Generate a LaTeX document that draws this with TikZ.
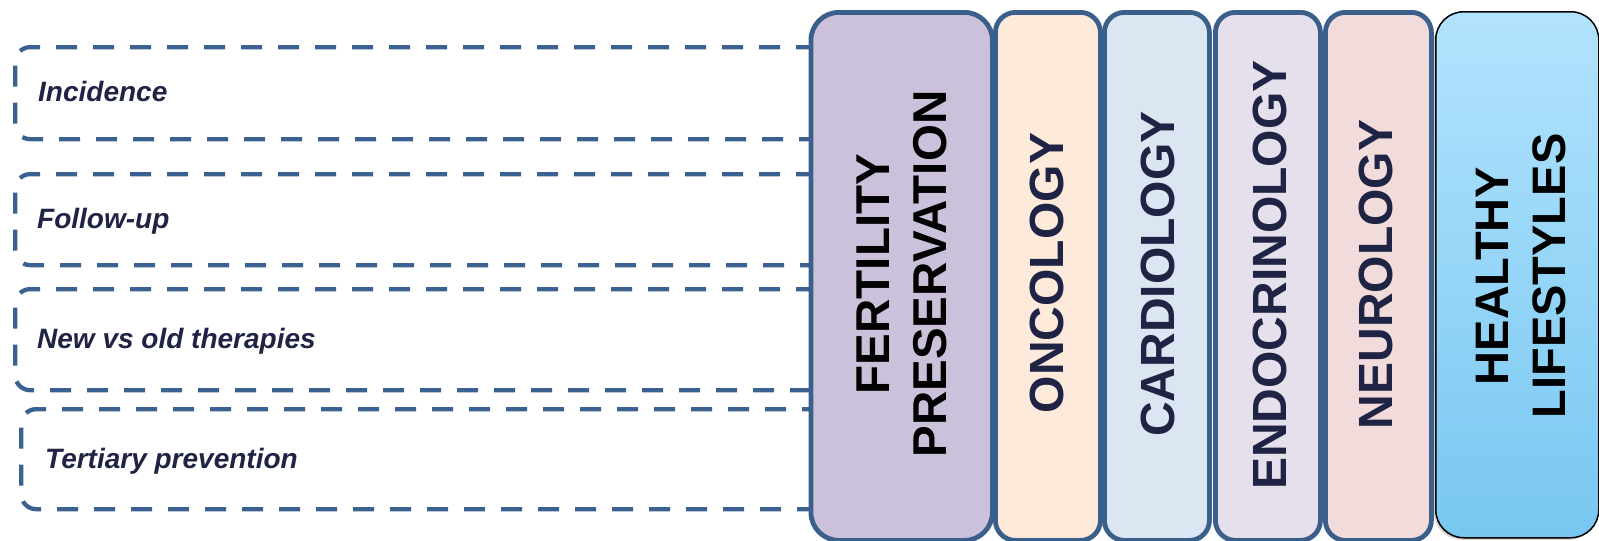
\documentclass[tikz,border=0pt]{standalone}
\usepackage{fontspec}
\setmainfont{Liberation Sans}
\usetikzlibrary{shadows}
\definecolor{bordc}{HTML}{3A5F8B}
\definecolor{dashc}{HTML}{3B6190}
\definecolor{navy}{HTML}{1F2444}
\definecolor{fertc}{HTML}{CBC1DA}
\definecolor{oncc}{HTML}{FDEADB}
\definecolor{cardc}{HTML}{DCE6F2}
\definecolor{endoc}{HTML}{E6E0EC}
\definecolor{neuroc}{HTML}{F2DCDB}
\definecolor{hltop}{HTML}{B2E3FD}
\definecolor{hlbot}{HTML}{78C7F1}
\begin{document}
\begin{tikzpicture}[x=1pt,y=-1pt,
  dbox/.style={rectangle, draw=dashc, line width=4.3pt, dash pattern=on 21pt off 16pt,
    rounded corners=15pt, anchor=north west, inner sep=0pt, minimum width=817pt},
  dlabel/.style={anchor=base west, text=navy, inner sep=0pt,
    font=\fontsize{28}{34}\selectfont\bfseries\itshape},
  colbox/.style={rectangle, draw=bordc, line width=4.8pt, anchor=north west,
    inner sep=0pt, rounded corners=20pt, minimum height=528pt},
  vlabel/.style={rotate=90, align=center, text=navy, inner sep=0pt,
    font=\fontsize{48}{57}\selectfont\bfseries},
]
\useasboundingbox (0,0) rectangle (1599,541);

% dashed topic boxes (partly hidden behind the first column)
\node[dbox, minimum height=92pt]  (d1) at (13,45)  {};
\node[dbox, minimum height=91pt]  (d2) at (13,172) {};
\node[dbox, minimum height=101pt] (d3) at (13,287) {};
\node[dbox, minimum height=100pt] (d4) at (19,407) {};
\node[dlabel] (l1) at (38,101) {Incidence};
\node[dlabel] (l2) at (37,228) {Follow-up};
\node[dlabel] (l3) at (37,348) {New vs old therapies};
\node[dlabel] (l4) at (45,468) {Tertiary prevention};

% columns
\node[colbox, fill=fertc, rounded corners=28pt, minimum width=181.5pt] (fert) at (808.5,10) {};
\node[colbox, fill=oncc, minimum width=105pt] (onc) at (993,10) {};
\node[colbox, fill=cardc, minimum width=105pt] (card) at (1102,10) {};
\node[colbox, fill=endoc, minimum width=105pt] (endo) at (1213,10) {};
\node[colbox, fill=neuroc, minimum width=106pt] (neuro) at (1323,10) {};
\node[rectangle, draw=black, line width=1.5pt, anchor=north west, inner sep=0pt,
  rounded corners=28pt, minimum width=163pt, minimum height=526pt,
  top color=hltop, bottom color=hlbot,
  drop shadow={shadow xshift=-2pt, shadow yshift=-2pt, opacity=0.35}] (hl) at (1435,11) {};

% column labels
\node[vlabel, text=black, font=\fontsize{47.5}{57}\selectfont\bfseries] (tf) at (901.5,274) {FERTILITY\\PRESERVATION};
\node[vlabel] (to) at (1047,273) {ONCOLOGY};
\node[vlabel] (tc) at (1158,274) {CARDIOLOGY};
\node[vlabel] (te) at (1270,275) {ENDOCRINOLOGY};
\node[vlabel] (tn) at (1376,274.5) {NEUROLOGY};
\node[vlabel, text=black, font=\fontsize{47}{57}\selectfont\bfseries] (th) at (1521,276) {HEALTHY\\LIFESTYLES};
\end{tikzpicture}
\end{document}
